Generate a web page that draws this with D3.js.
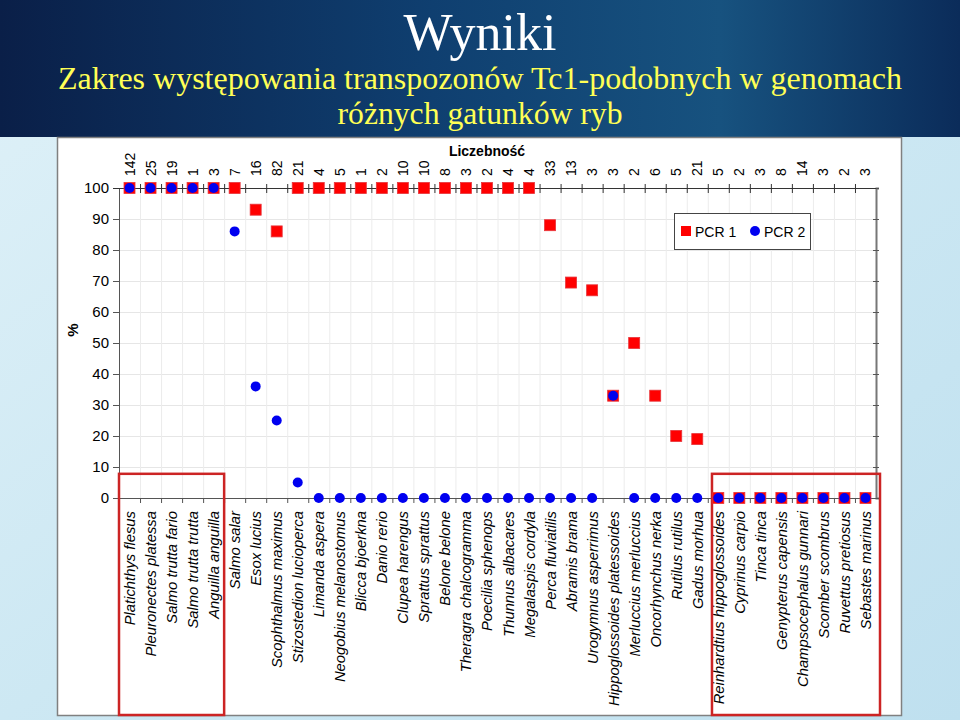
<!DOCTYPE html>
<html><head><meta charset="utf-8">
<script src="https://cdn.jsdelivr.net/npm/d3@7"></script>
<style>body{margin:0;padding:0;background:#fff}svg{display:block}</style>
</head><body>
<script>
const categories = ["Platichthys flesus","Pleuronectes platessa","Salmo trutta fario","Salmo trutta trutta","Anguilla anguilla","Salmo salar","Esox lucius","Scophthalmus maximus","Stizostedion lucioperca","Limanda aspera","Neogobius melanostomus","Blicca bjoerkna","Danio rerio","Clupea harengus","Sprattus sprattus","Belone belone","Theragra chalcogramma","Poecilia sphenops","Thunnus albacares","Megalaspis cordyla","Perca fluviatilis","Abramis brama","Urogymnus asperrimus","Hippoglossoides platessoides","Merluccius merluccius","Oncorhynchus nerka","Rutilus rutilus","Gadus morhua","Reinhardtius hippoglossoides","Cyprinus carpio","Tinca tinca","Genypterus capensis","Champsocephalus gunnari","Scomber scombrus","Ruvettus pretiosus","Sebastes marinus"];
const counts = [142,25,19,1,3,7,16,82,21,4,5,1,2,10,10,8,3,2,4,4,33,13,3,3,2,6,5,21,5,2,3,8,14,3,2,3];
const pcr1 = [100,100,100,100,100,100,93,86,100,100,100,100,100,100,100,100,100,100,100,100,88,69.5,67,33,50,33,20,19,0,0,0,0,0,0,0,0];
const pcr2 = [100,100,100,100,100,86,36,25,5,0,0,0,0,0,0,0,0,0,0,0,0,0,0,33,0,0,0,0,0,0,0,0,0,0,0,0];
const yTicks = [0,10,20,30,40,50,60,70,80,90,100];
const seriesNames = ["PCR 1","PCR 2"];
const highlightGroups = [[0,4],[28,35]];

const W=960,H=720;
const svg=d3.select("body").append("svg").attr("width",W).attr("height",H);
const defs=svg.append("defs");
const g1=defs.append("linearGradient").attr("id","bgTop").attr("x1","0").attr("x2","1").attr("y1","0").attr("y2","0");
g1.append("stop").attr("offset","0").attr("stop-color","#0a1f48");
g1.append("stop").attr("offset","0.45").attr("stop-color","#0f3f70");
g1.append("stop").attr("offset","0.75").attr("stop-color","#17527f");
g1.append("stop").attr("offset","1").attr("stop-color","#0b2c5a");
const g2=defs.append("linearGradient").attr("id","bgLow").attr("x1","0").attr("x2","1").attr("y1","0").attr("y2","1");
g2.append("stop").attr("offset","0").attr("stop-color","#dff1f8");
g2.append("stop").attr("offset","0.5").attr("stop-color","#cde8f3");
g2.append("stop").attr("offset","1").attr("stop-color","#bfe0ef");

svg.append("rect").attr("width",W).attr("height",H).attr("fill","url(#bgLow)");
svg.append("rect").attr("width",W).attr("height",137).attr("fill","url(#bgTop)");

// titles
svg.append("text").attr("x",480).attr("y",50).attr("text-anchor","middle")
  .attr("font-family","Liberation Serif, Times New Roman, serif").attr("font-size",52).attr("fill","#ffffff").text("Wyniki");
svg.append("text").attr("x",480).attr("y",89).attr("text-anchor","middle")
  .attr("font-family","Liberation Serif, Times New Roman, serif").attr("font-size",32).attr("fill","#ffff55")
  .attr("textLength",844).attr("lengthAdjust","spacingAndGlyphs")
  .text("Zakres występowania transpozonów Tc1-podobnych w genomach");
svg.append("text").attr("x",480).attr("y",124).attr("text-anchor","middle")
  .attr("font-family","Liberation Serif, Times New Roman, serif").attr("font-size",32).attr("fill","#ffff55")
  .attr("textLength",285).attr("lengthAdjust","spacingAndGlyphs")
  .text("różnych gatunków ryb");

// chart panel
svg.append("rect").attr("x",57.5).attr("y",137.5).attr("width",844).attr("height",578)
  .attr("fill","#ffffff").attr("stroke","#808080").attr("stroke-width",1.5);

const pL=119,pR=876,pT=188,pB=498;
const x=d3.scaleBand().domain(categories).range([pL,pR]).padding(0);
const y=d3.scaleLinear().domain([0,100]).range([pB,pT]);
const bw=x.bandwidth();
const font="Arial, Liberation Sans, sans-serif";

// gridlines
const grid=svg.append("g");
grid.selectAll(".hg").data(yTicks.filter(d=>d>0&&d<100)).join("line")
  .attr("x1",pL).attr("x2",pR).attr("y1",d=>y(d)+0.5).attr("y2",d=>y(d)+0.5)
  .attr("stroke","#e6e6e6").attr("stroke-width",1);
grid.selectAll(".vg").data(categories.slice(1)).join("line")
  .attr("x1",d=>x(d)+0.5).attr("x2",d=>x(d)+0.5).attr("y1",pT).attr("y2",pB)
  .attr("stroke","#ececec").attr("stroke-width",1);

// left axis
const yAxis=svg.append("g").attr("transform",`translate(${pL},0)`)
  .call(d3.axisLeft(y).tickValues(yTicks).tickSize(6).tickPadding(4));
yAxis.select(".domain").attr("stroke","#555");
yAxis.selectAll(".tick line").attr("stroke","#555");
yAxis.selectAll("text").attr("font-family",font).attr("font-size",15).attr("fill","#000");

// right axis
const rAxis=svg.append("g").attr("transform",`translate(${pR},0)`)
  .call(d3.axisRight(y).tickValues(yTicks).tickSize(3).tickFormat(""));
rAxis.select(".domain").attr("stroke","#777").attr("stroke-width",2);
rAxis.selectAll(".tick line").attr("stroke","#555").attr("x1",-3);

// bottom axis
const bAxis=svg.append("g").attr("transform",`translate(0,${pB})`);
bAxis.append("line").attr("x1",pL).attr("x2",pR).attr("y1",0.5).attr("y2",0.5).attr("stroke","#555");
bAxis.selectAll(".bt").data(categories.slice(1)).join("line")
  .attr("x1",d=>x(d)+0.5).attr("x2",d=>x(d)+0.5).attr("y1",0).attr("y2",5).attr("stroke","#555");

// top axis
const tAxis=svg.append("g").attr("transform",`translate(0,${pT})`);
tAxis.append("line").attr("x1",pL-6).attr("x2",pR).attr("y1",0.5).attr("y2",0.5).attr("stroke","#333");
tAxis.selectAll(".tt").data(categories.slice(1)).join("line")
  .attr("x1",d=>x(d)+0.5).attr("x2",d=>x(d)+0.5).attr("y1",-4).attr("y2",5).attr("stroke","#333");

// count labels
svg.append("g").selectAll("text").data(categories).join("text")
  .attr("transform",(d)=>`translate(${x(d)+bw/2+5},176) rotate(-90)`)
  .attr("font-family",font).attr("font-size",14).attr("fill","#000")
  .text((d,i)=>counts[i]);
svg.append("text").attr("x",487).attr("y",156).attr("text-anchor","middle")
  .attr("font-family",font).attr("font-size",14).attr("font-weight","bold").text("Liczebność");

// category labels
svg.append("g").selectAll("text").data(categories).join("text")
  .attr("transform",(d)=>`translate(${x(d)+bw/2+5.5},511) rotate(-90)`)
  .attr("text-anchor","end").attr("font-family",font).attr("font-size",14.8)
  .attr("font-style","italic").attr("fill","#000").text(d=>d);

// % label
svg.append("text").attr("transform","translate(78,330) rotate(-90)").attr("text-anchor","middle")
  .attr("font-family",font).attr("font-size",15).attr("font-weight","bold").text("%");

// highlight rects
const hl=svg.append("g");
highlightGroups.forEach(([a,b],k)=>{
  const x0 = k===0 ? x(categories[a]) : x(categories[a])+bw*0.2;
  const x1 = k===0 ? x(categories[b])+bw : pR+4;
  hl.append("rect").attr("x",x0).attr("y",y(7.8)).attr("width",x1-x0).attr("height",715-y(7.8))
    .attr("fill","none").attr("stroke","#cc2424").attr("stroke-width",2.5);
});

// markers
const s=11;
svg.append("g").selectAll("rect").data(categories).join("rect")
  .attr("x",(d)=>x(d)+bw/2-s/2).attr("y",(d,i)=>y(pcr1[i])-s/2)
  .attr("width",s).attr("height",s).attr("fill","#ff0000").attr("stroke","#e8343a").attr("stroke-width",0.8);
svg.append("g").selectAll("circle").data(categories).join("circle")
  .attr("cx",(d)=>x(d)+bw/2).attr("cy",(d,i)=>y(pcr2[i])).attr("r",5)
  .attr("fill","#0000f0");

// legend
const lg=svg.append("g");
lg.append("rect").attr("x",674.5).attr("y",213.5).attr("width",136).attr("height",36)
  .attr("fill","#fff").attr("stroke","#444").attr("stroke-width",1);
lg.append("rect").attr("x",681).attr("y",226).attr("width",10).attr("height",10).attr("fill","#ff0000");
lg.append("text").attr("x",695).attr("y",237).attr("font-family",font).attr("font-size",14).text(seriesNames[0]);
lg.append("circle").attr("cx",755).attr("cy",231).attr("r",5).attr("fill","#0000f0");
lg.append("text").attr("x",764).attr("y",237).attr("font-family",font).attr("font-size",14).text(seriesNames[1]);
</script>
</body></html>
